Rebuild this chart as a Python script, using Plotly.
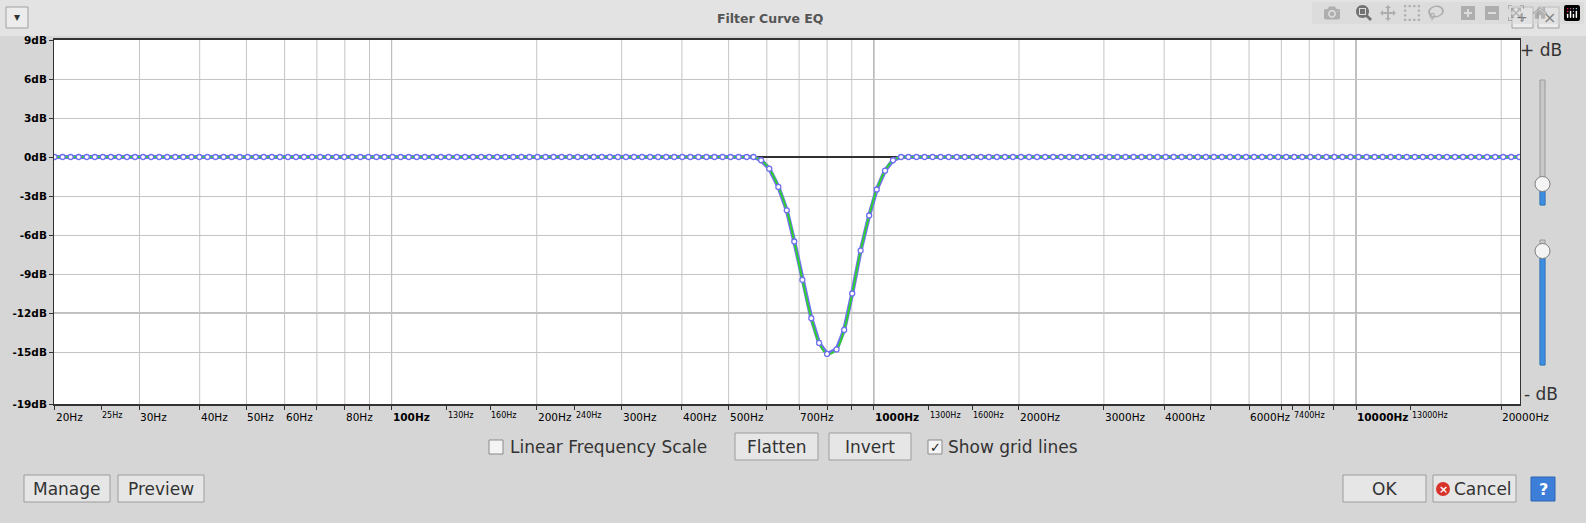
import numpy as np
import plotly.graph_objects as go

# filter curve control points (Hz, dB) read from the dialog
dip_freq = [563, 584, 607, 634, 660, 684, 711, 742, 770, 800,
            837, 868, 902, 939, 978, 1014, 1055, 1096, 1139]
dip_db = [0.0, -0.25, -0.9, -2.3, -4.1, -6.5, -9.45, -12.4, -14.3, -15.15,
          -14.8, -13.3, -10.5, -7.2, -4.5, -2.5, -1.05, -0.25, 0.0]
# flat 0 dB points either side of the dip (evenly spaced on the log scale)
flat_left = list(np.geomspace(20, 545, 87))
flat_right = list(np.geomspace(1180, 21800, 77))

freqs = flat_left + dip_freq + flat_right
gains = [0.0] * len(flat_left) + dip_db + [0.0] * len(flat_right)

y_ticks = [9, 6, 3, 0, -3, -6, -9, -12, -15, -19]
y_labels = ["9dB", "6dB", "3dB", "0dB", "-3dB", "-6dB", "-9dB", "-12dB", "-15dB", "-19dB"]
grid_freqs = [30, 40, 50, 60, 70, 80, 90, 100, 200, 300, 400, 500, 600, 700, 800, 900,
              1000, 2000, 3000, 4000, 5000, 6000, 7000, 8000, 9000, 10000, 20000]
x_label_freqs = [20, 25, 30, 40, 50, 60, 80, 100, 130, 160, 200, 240, 300, 400, 500, 700,
                 1000, 1300, 1600, 2000, 3000, 4000, 6000, 7400, 10000, 13000, 20000]
x_label_kind = ["n", "s", "n", "n", "n", "n", "n", "b", "s", "s", "n", "s", "n", "n", "n", "n",
                "b", "s", "s", "n", "n", "n", "n", "s", "b", "s", "n"]

W, H = 1586, 523
L, R, T, B = 54, 1520, 40, 404
FONT = "DejaVu Sans"


def px(x):
    return (x - L) / (R - L)


def py(y):
    return (B - y) / (B - T)


fig = go.Figure()
fig.add_trace(go.Scatter(x=[563, 1139], y=[0, 0], mode="lines",
                         line=dict(color="black", width=1.5), hoverinfo="skip"))
fig.add_trace(go.Scatter(x=freqs, y=gains, mode="lines",
                         line=dict(color="#6f6ff0", width=4), hoverinfo="skip"))
fig.add_trace(go.Scatter(x=freqs, y=gains, mode="lines", line_shape="spline",
                         line=dict(color="#2ed12e", width=2), hoverinfo="skip"))
fig.add_trace(go.Scatter(x=freqs, y=gains, mode="markers",
                         marker=dict(size=5, color="white", line=dict(color="#6f6ff0", width=1.3)),
                         hoverinfo="skip"))

shapes = []
# darker grid lines
for f in [100, 1000, 10000]:
    shapes.append(dict(type="line", xref="x", yref="paper", x0=f, x1=f, y0=0, y1=1,
                       line=dict(color="#808080", width=1), layer="below"))
for d in [0, -12]:
    shapes.append(dict(type="line", xref="paper", yref="y", x0=0, x1=1, y0=d, y1=d,
                       line=dict(color="#808080", width=1), layer="below"))
# title bar
shapes.append(dict(type="rect", xref="paper", yref="paper", x0=px(0), x1=px(W), y0=py(0), y1=py(36),
                   fillcolor="#e3e3e3", line=dict(width=0), layer="below"))
for x0, x1 in [(6, 28), (1512, 1533), (1538, 1559)]:
    shapes.append(dict(type="rect", xref="paper", yref="paper", x0=px(x0), x1=px(x1), y0=py(7), y1=py(28),
                       fillcolor="#ececec", line=dict(color="#a0a0a0", width=1)))
# sliders
for (t0, t1, f0, ty) in [(80, 205, 185, 184), (240, 365, 252, 251)]:
    shapes.append(dict(type="rect", xref="paper", yref="paper", x0=px(1540), x1=px(1545), y0=py(t1), y1=py(t0),
                       fillcolor="#c8c8c8", line=dict(color="#9a9a9a", width=1)))
    shapes.append(dict(type="rect", xref="paper", yref="paper", x0=px(1540), x1=px(1545), y0=py(t1), y1=py(f0),
                       fillcolor="#3d8ee0", line=dict(color="#2f78c4", width=1)))
    shapes.append(dict(type="circle", xref="paper", yref="paper", x0=px(1535), x1=px(1550), y0=py(ty + 7.5),
                       y1=py(ty - 7.5), fillcolor="#f4f4f4", line=dict(color="#808080", width=1)))
# buttons
buttons = [(735, 818, 433, 460, "Flatten"), (829, 911, 433, 460, "Invert"),
           (24, 110, 475, 502, "Manage"), (118, 204, 475, 502, "Preview"),
           (1343, 1426, 475, 502, "OK"), (1433, 1516, 475, 502, "")]
for x0, x1, y0, y1, _ in buttons:
    shapes.append(dict(type="rect", xref="paper", yref="paper", x0=px(x0), x1=px(x1), y0=py(y1), y1=py(y0),
                       fillcolor="#e6e6e6", line=dict(color="#9c9c9c", width=1)))
for cx in [496, 935]:
    shapes.append(dict(type="rect", xref="paper", yref="paper", x0=px(cx - 7), x1=px(cx + 7), y0=py(454),
                       y1=py(440), fillcolor="#f4f4f4", line=dict(color="#8a8a8a", width=1)))
shapes.append(dict(type="circle", xref="paper", yref="paper", x0=px(1436), x1=px(1450), y0=py(496), y1=py(482),
                   fillcolor="#d8322a", line=dict(width=0)))
shapes.append(dict(type="rect", xref="paper", yref="paper", x0=px(1531), x1=px(1555), y0=py(501), y1=py(477),
                   fillcolor="#3d7fd8", line=dict(color="#2a64b4", width=1)))

ann = []
for f, k in zip(x_label_freqs, x_label_kind):
    ann.append(dict(x=np.log10(f), y=py(409), xref="x", yref="paper", text=f"{f}Hz", showarrow=False,
                    xanchor="left", yanchor="top", xshift=-1,
                    font=dict(family=FONT, size=8 if k == "s" else 10.5, color="black",
                              weight="bold" if k == "b" else "normal")))
texts = [(770, 19, "Filter Curve EQ", 12.5, "#555555", "center", "bold"),
         (1541, 50, "+ dB", 17, "#333333", "center", "normal"),
         (1541, 394, "- dB", 17, "#333333", "center", "normal"),
         (508, 447, "Linear Frequency Scale", 17, "#333333", "left", "normal"),
         (946, 447, "Show grid lines", 17, "#333333", "left", "normal"),
         (1452, 489, "Cancel", 17, "#333333", "left", "normal"),
         (17, 17, "▾", 12, "#333333", "center", "normal"),
         (1522, 17, "+", 14, "#333333", "center", "normal"),
         (1549, 17, "×", 16, "#333333", "center", "normal"),
         (935, 447, "✓", 13, "#222222", "center", "bold"),
         (1443, 489, "×", 11, "white", "center", "bold"),
         (1543, 489, "?", 16, "white", "center", "bold")]
for x0, x1, y0, y1, t in buttons:
    if t:
        texts.append(((x0 + x1) / 2, (y0 + y1) / 2, t, 17, "#333333", "center", "normal"))
for x, y, t, s, c, a, w in texts:
    ann.append(dict(x=px(x), y=py(y), xref="paper", yref="paper", text=t, showarrow=False,
                    xanchor=a, yanchor="middle", font=dict(family=FONT, size=s, color=c, weight=w)))

fig.update_layout(
    width=W, height=H, showlegend=False,
    margin=dict(l=L, r=W - R, t=T, b=H - B),
    paper_bgcolor="#d6d6d6", plot_bgcolor="white",
    shapes=shapes, annotations=ann,
    xaxis=dict(type="log", range=[np.log10(19.95), 4.34], tickvals=grid_freqs + x_label_freqs,
               showticklabels=False, ticks="outside", ticklen=4, tickcolor="#333",
               showgrid=False, showline=True, linecolor="#333", linewidth=1.5, mirror=True, zeroline=False),
    yaxis=dict(range=[-19, 9], tickvals=y_ticks, ticktext=y_labels, ticks="outside", ticklen=4,
               tickcolor="#333", tickfont=dict(family=FONT, size=10.5, color="black", weight="bold"),
               gridcolor="#c4c4c4", showline=True, linecolor="#333", linewidth=1, mirror=True,
               zeroline=False),
)
for f in grid_freqs:
    fig.add_vline(x=f, line=dict(color="#c4c4c4", width=1), layer="below")

fig.write_html("out.html",
               post_script="document.body.style.margin='0';document.body.style.overflow='hidden';")
